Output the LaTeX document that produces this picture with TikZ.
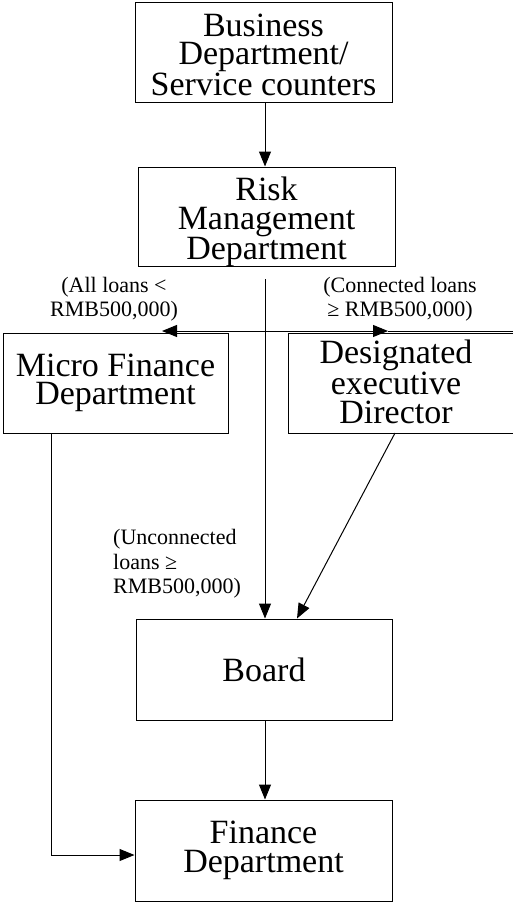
\documentclass[tikz,border=0pt]{standalone}
\usepackage{fontspec}
\setmainfont{Liberation Serif}
\usetikzlibrary{arrows.meta}
\begin{document}
\begin{tikzpicture}[x=1pt,y=-1pt,
  frame/.style={draw, line width=1pt, inner sep=0pt},
  box/.style={frame, align=center, font=\fontsize{34}{28.5}\selectfont},
  boxtext/.style={inner sep=0pt, align=center, font=\fontsize{34}{28.5}\selectfont},
  lbl/.style={inner sep=0pt, font=\fontsize{22}{24.5}\selectfont},
  ln/.style={line width=1pt},
  arr/.style={line width=1pt, -{Triangle[length=15pt,width=12pt]}}]
\useasboundingbox (0,0) rectangle (513,902);
\clip (0,0) rectangle (513,902);

% boxes
\node[frame, minimum width=257pt, minimum height=100pt] (bus) at (263.5,52) {};
\node[boxtext] (bustext) at (263.5,55) {Business\\Department/\\Service counters};
\node[frame, minimum width=257pt, minimum height=99pt] (risk) at (266.5,216.5) {};
\node[boxtext] (risktext) at (266.5,222) {Risk\\Management\\Department};
\node[box, minimum width=225pt, minimum height=100pt] (micro) at (115.5,383) {Micro Finance\\Department};
\node[frame, minimum width=242pt, minimum height=100pt] (dir) at (409,383) {};
\node[boxtext] (dirtext) at (396,382) {Designated\\executive\\Director};
\node[box, minimum width=256pt, minimum height=101pt] (board) at (264,669.5) {Board};
\node[box, minimum width=257pt, minimum height=101pt] (fin) at (263.5,850.5) {Finance\\Department};

% labels
\node[lbl, align=center] (lall) at (114,299) {(All loans <\\RMB500,000)};
\node[lbl, align=center] (lcon) at (400,299) {(Connected loans\\≥ RMB500,000)};
\node[lbl, align=left, anchor=west] (lunc) at (113,564) {(Unconnected\\loans ≥\\RMB500,000)};

% helper coordinates
\coordinate (cx) at (265,0);
\coordinate (rs) at (265,279);
\coordinate (hm) at (265,331);
\coordinate (hl) at (162,331);
\coordinate (hr) at (388,331);
\coordinate (he) at (513,331);
\coordinate (mx) at (51,855);
\coordinate (ds) at (395,433);
\coordinate (bt) at (297,0);

% connectors
\draw[arr] (bus.south -| cx) -- (risk.north -| cx);
\draw[arr] (rs) -- (board.north -| rs);
\draw[arr] (hm) -- (hl);
\draw[arr] (hm) -- (hr);
\draw[ln] (hr) -- (he);
\draw[arr] (micro.south -| mx) |- (fin.west |- mx);
\draw[arr] (ds) -- (board.north -| bt);
\draw[arr] (board.south -| cx) -- (fin.north -| cx);
\end{tikzpicture}
\end{document}
